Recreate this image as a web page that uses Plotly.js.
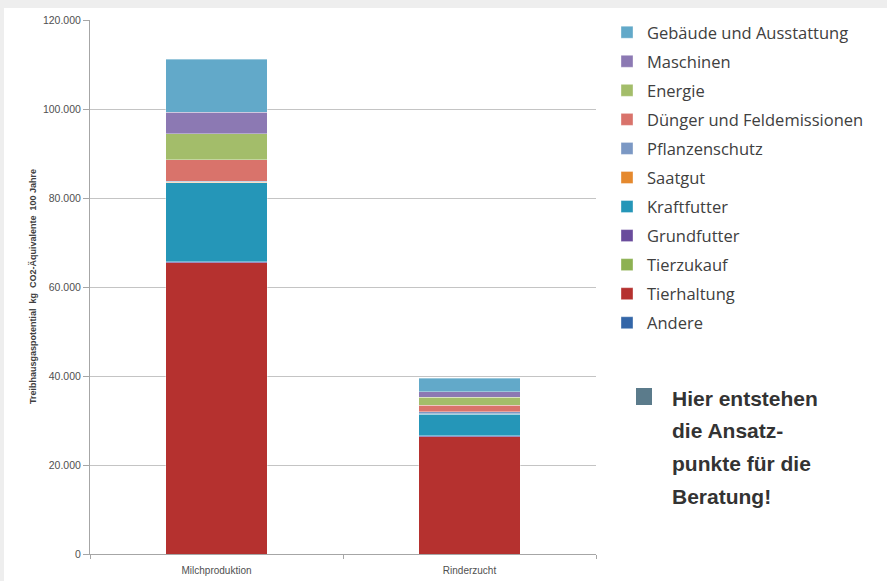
<!DOCTYPE html>
<html>
<head>
<meta charset="utf-8">
<script src="https://cdn.plot.ly/plotly-3.0.1.min.js"></script>
<style>
  html, body { margin: 0; padding: 0; background: #eeeeee; width: 887px; height: 581px; overflow: hidden; }
  #chart { position: absolute; left: 4px; top: 8px; width: 883px; height: 573px; background: #ffffff; }
</style>
</head>
<body>
<div id="chart"></div>
<script>
// Categories (x axis)
const categories = ["Milchproduktion", "Rinderzucht"];

// Series (stacked from bottom to top), values in kg CO2-Äquivalente
const andere         = [0, 0];
const tierhaltung    = [65500, 26400];
const tierzukauf     = [0, 0];
const grundfutter    = [200, 200];
const kraftfutter    = [17700, 4800];
const saatgut        = [100, 100];
const pflanzenschutz = [300, 500];
const duenger        = [4800, 1400];
const energie        = [5800, 1800];
const maschinen      = [4900, 1300];
const gebaeude       = [11900, 3000];

const seriesNames = ["Andere", "Tierhaltung", "Tierzukauf", "Grundfutter", "Kraftfutter",
  "Saatgut", "Pflanzenschutz", "Dünger und Feldemissionen", "Energie", "Maschinen",
  "Gebäude und Ausstattung"];
const seriesValues = [andere, tierhaltung, tierzukauf, grundfutter, kraftfutter,
  saatgut, pflanzenschutz, duenger, energie, maschinen, gebaeude];
const seriesColors = ["#3366a8", "#b5312f", "#8db152", "#6a4c9c", "#2596b8",
  "#e5892e", "#7b98c4", "#d9736b", "#a3bd6a", "#8c79b3", "#62a9c9"];

// y axis ticks
const yTickVals = [0, 20000, 40000, 60000, 80000, 100000, 120000];

const yTitle = "Treibhausgaspotential  kg  CO2-Äquivalente  100 Jahre";
const noteLines = ["Hier entstehen", "die Ansatz-", "punkte für die", "Beratung!"];

const n = seriesNames.length;
const traces = seriesNames.map((name, i) => ({
  type: "bar",
  name: name,
  x: categories,
  y: seriesValues[i],
  legendgroup: "g" + i,
  legendrank: n - i,
  marker: { color: seriesColors[i], line: { color: "rgba(255,255,255,0.45)", width: 0.8 } },
  hoverinfo: "name+y"
}));

// geometry helpers (div pixels -> paper)
const W = 883, H = 573;
const mL = 86, mR = W - 592, mT = 12, mB = H - 546;
const pw = W - mL - mR, ph = H - mT - mB;
const px = v => (v - mL) / pw;
const py = v => (H - mB - v) / ph;

const annotations = [{
  xref: "paper", yref: "paper",
  x: px(29), y: 0.5, xanchor: "center", yanchor: "middle",
  text: yTitle, textangle: -90, showarrow: false,
  font: { family: "Liberation Sans, Arial, sans-serif", size: 9, color: "#404040", weight: "bold" }
}];
const lineY = [390, 422, 455, 488];
noteLines.forEach((t, i) => annotations.push({
  xref: "paper", yref: "paper",
  x: px(666), y: py(lineY[i]), xanchor: "left", yanchor: "middle",
  text: "<b>" + t + "</b>", showarrow: false, align: "left",
  font: { family: "Liberation Sans, Arial, sans-serif", size: 21, color: "#333333" }
}));

const layout = {
  width: W, height: H,
  margin: { l: mL, r: mR, t: mT, b: mB, pad: 0, autoexpand: false },
  paper_bgcolor: "#ffffff",
  plot_bgcolor: "#ffffff",
  barmode: "stack",
  bargap: 0.6,
  separators: ",.",
  showlegend: true,
  legend: {
    x: px(603), xanchor: "left",
    y: py(7), yanchor: "top",
    traceorder: "grouped",
    tracegroupgap: 4.6,
    maxheight: 560,
    font: { family: "Open Sans, sans-serif", size: 16.5, color: "#404040" },
    bgcolor: "rgba(0,0,0,0)",
    itemwidth: 30
  },
  xaxis: {
    type: "category",
    showline: true, linecolor: "#a6a6a6", linewidth: 1,
    ticks: "outside", tickson: "boundaries", ticklen: 4, tickcolor: "#a6a6a6",
    ticklabelstandoff: 7,
    tickfont: { family: "Liberation Sans, Arial, sans-serif", size: 10, color: "#505050" },
    showgrid: false, zeroline: false, fixedrange: true
  },
  yaxis: {
    range: [0, 120000],
    tickvals: yTickVals,
    tickformat: ",d",
    showline: true, linecolor: "#a6a6a6", linewidth: 1,
    ticks: "outside", ticklen: 6, tickcolor: "#a6a6a6",
    tickfont: { family: "Liberation Sans, Arial, sans-serif", size: 10.5, color: "#505050" },
    showgrid: true, gridcolor: "#c4c4c4", gridwidth: 1,
    zeroline: false, fixedrange: true
  },
  shapes: [{
    type: "rect", xref: "paper", yref: "paper",
    x0: px(632), x1: px(648), y0: py(397), y1: py(380),
    fillcolor: "#5b7b8b", line: { width: 0 }
  }],
  annotations: annotations
};

Plotly.newPlot("chart", traces, layout, { displayModeBar: false, staticPlot: true });
</script>
</body>
</html>
